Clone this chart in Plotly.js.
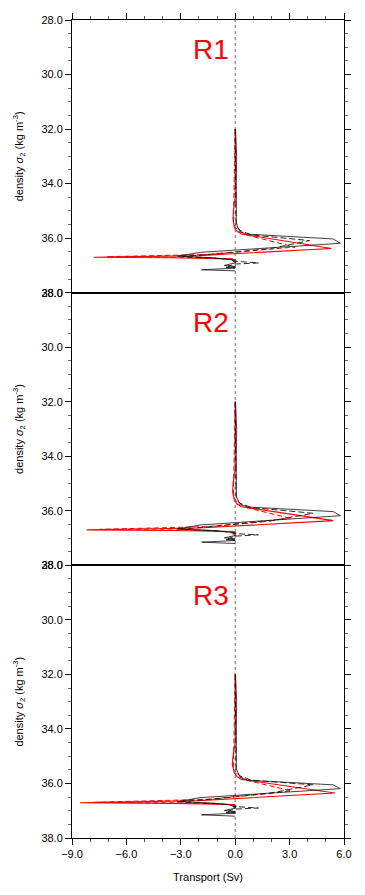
<!DOCTYPE html>
<html><head><meta charset="utf-8">
<script src="https://cdn.plot.ly/plotly-3.0.1.min.js"></script>
<style>html,body{margin:0;padding:0;background:#fff}#chart{width:365px;height:895px}</style>
</head><body><div id="chart"></div>
<script>
// Panel labels
const panelLabels = ['R1', 'R2', 'R3'];

// ---- R1 ----
const r1BlackSolidX = [0.02, 0.08, 0.06, 0.04, 0.06, 0.15, 0.35, 0.6, 5.4, 5.8, -1.9, -3.2, -1.2, -0.1, 0.05, -0.6, 0.0, -0.5, 0.0, -1.85, 0.0];
const r1BlackSolidY = [32.0, 33.0, 34.0, 35.0, 35.4, 35.65, 35.78, 35.85, 36.03, 36.19, 36.52, 36.66, 36.72, 36.8, 36.9, 37.0, 37.04, 37.07, 37.1, 37.16, 37.2];
const r1BlackDashX = [0.0, 0.03, 0.02, 0.05, 0.25, 0.9, 4.1, 1.9, -1.2, -2.9, -0.6, 0.05, 1.3, 0.0, -0.4, 0.0];
const r1BlackDashY = [32.0, 34.0, 35.0, 35.5, 35.72, 35.88, 36.09, 36.39, 36.58, 36.67, 36.76, 36.85, 36.91, 36.95, 37.03, 37.08];
const r1RedSolidX = [0.0, 0.0, -0.1, -0.12, -0.05, 0.1, 0.35, 5.3, -2.0, -7.8, -3.5, -0.2, 0.0, -0.1, 0.0];
const r1RedSolidY = [32.0, 34.5, 35.0, 35.3, 35.6, 35.75, 35.85, 36.38, 36.64, 36.70, 36.72, 36.76, 36.8, 36.85, 36.9];
const r1RedDashX = [0.0, -0.08, -0.1, 0.0, 0.2, 0.6, 3.3, 2.7, -1.5, -7.1, -2.0, 0.0, 0.05, 0.0];
const r1RedDashY = [32.0, 35.0, 35.4, 35.6, 35.75, 35.88, 36.33, 36.36, 36.6, 36.68, 36.71, 36.78, 36.85, 36.9];

// ---- R2 ----
const r2BlackSolidX = [0.02, 0.08, 0.06, 0.04, 0.06, 0.2, 0.45, 0.7, 5.41, 5.8, -1.94, -3.2, -1.2, -0.1, 0.05, -0.6, 0.0, -0.5, 0.0, -1.85, 0.0];
const r2BlackSolidY = [32.0, 33.0, 34.0, 35.0, 35.45, 35.7, 35.8, 35.86, 36.03, 36.18, 36.52, 36.67, 36.72, 36.8, 36.9, 36.99, 37.03, 37.06, 37.09, 37.15, 37.2];
const r2BlackDashX = [0.0, 0.03, 0.02, 0.05, 0.25, 0.9, 4.3, 1.9, -1.2, -3.0, -0.6, 0.05, 1.28, 0.0, -0.4, 0.0];
const r2BlackDashY = [32.0, 34.0, 35.0, 35.5, 35.72, 35.88, 36.09, 36.38, 36.57, 36.67, 36.76, 36.84, 36.88, 36.93, 37.02, 37.07];
const r2RedSolidX = [0.0, 0.0, -0.12, -0.14, -0.05, 0.1, 0.35, 5.41, -2.0, -8.19, -3.5, -0.2, 0.0, -0.1, 0.0];
const r2RedSolidY = [32.0, 34.5, 35.0, 35.3, 35.6, 35.75, 35.85, 36.36, 36.63, 36.70, 36.72, 36.76, 36.8, 36.85, 36.9];
const r2RedDashX = [0.0, -0.08, -0.1, 0.0, 0.2, 0.6, 3.0, 2.5, -1.5, -7.5, -2.0, 0.0, 0.05, 0.0];
const r2RedDashY = [32.0, 35.0, 35.4, 35.6, 35.75, 35.88, 36.27, 36.31, 36.58, 36.68, 36.71, 36.78, 36.85, 36.9];

// ---- R3 ----
const r3BlackSolidX = [0.02, 0.08, 0.06, 0.04, 0.06, 0.2, 0.45, 0.7, 5.4, 5.8, -1.94, -3.2, -1.2, -0.1, 0.05, -0.6, 0.0, -0.5, 0.0, -1.85, 0.0];
const r3BlackSolidY = [32.0, 33.0, 34.0, 35.0, 35.45, 35.7, 35.82, 35.88, 36.05, 36.19, 36.52, 36.67, 36.72, 36.8, 36.9, 36.99, 37.03, 37.06, 37.09, 37.15, 37.2];
const r3BlackDashX = [0.0, 0.03, 0.02, 0.05, 0.25, 0.9, 4.3, 1.9, -1.2, -3.0, -0.6, 0.05, 1.28, 0.0, -0.4, 0.0];
const r3BlackDashY = [32.0, 34.0, 35.0, 35.5, 35.72, 35.88, 36.05, 36.36, 36.57, 36.67, 36.76, 36.85, 36.9, 36.94, 37.02, 37.07];
const r3RedSolidX = [0.0, 0.0, -0.12, -0.16, -0.05, 0.1, 0.35, 5.5, -2.0, -8.56, -3.5, -0.2, 0.0, -0.1, 0.0];
const r3RedSolidY = [32.0, 34.5, 35.0, 35.3, 35.6, 35.75, 35.85, 36.35, 36.63, 36.71, 36.73, 36.77, 36.8, 36.85, 36.9];
const r3RedDashX = [0.0, -0.08, -0.1, 0.0, 0.2, 0.6, 3.1, 2.6, -1.5, -7.8, -2.0, 0.0, 0.05, 0.0];
const r3RedDashY = [32.0, 35.0, 35.4, 35.6, 35.75, 35.88, 36.27, 36.31, 36.58, 36.69, 36.72, 36.78, 36.85, 36.9];

const panelSeries = [
  {bs:[r1BlackSolidX,r1BlackSolidY], bd:[r1BlackDashX,r1BlackDashY], rs:[r1RedSolidX,r1RedSolidY], rd:[r1RedDashX,r1RedDashY]},
  {bs:[r2BlackSolidX,r2BlackSolidY], bd:[r2BlackDashX,r2BlackDashY], rs:[r2RedSolidX,r2RedSolidY], rd:[r2RedDashX,r2RedDashY]},
  {bs:[r3BlackSolidX,r3BlackSolidY], bd:[r3BlackDashX,r3BlackDashY], rs:[r3RedSolidX,r3RedSolidY], rd:[r3RedDashX,r3RedDashY]}
];

const FONT = '"Liberation Sans", Arial, Helvetica, sans-serif';
const traces = [];
panelSeries.forEach((p, i) => {
  const xa = i === 0 ? 'x' : 'x' + (i + 1);
  const ya = i === 0 ? 'y' : 'y' + (i + 1);
  const mk = (d, color, dash, w) => ({
    type: 'scatter', mode: 'lines', x: d[0], y: d[1], xaxis: xa, yaxis: ya,
    line: {color: color, width: w, dash: dash}, showlegend: false, hoverinfo: 'skip'
  });
  traces.push(mk(p.rd, '#ff0000', '5px,3px', 1));
  traces.push(mk(p.rs, '#ff0000', 'solid', 1.1));
  traces.push(mk(p.bd, '#111111', '6px,3px', 0.9));
  traces.push(mk(p.bs, '#111111', 'solid', 0.8));
});

const domains = [[2/3, 1], [1/3, 2/3], [0, 1/3]];
const layout = {
  width: 365, height: 895,
  margin: {l: 72, r: 21, t: 20, b: 57},
  paper_bgcolor: '#fff', plot_bgcolor: '#fff',
  font: {family: FONT, size: 11, color: '#000'},
  showlegend: false,
  shapes: [{type: 'line', xref: 'x', yref: 'paper', x0: 0, x1: 0, y0: 0, y1: 1,
            line: {color: '#444', width: 0.8, dash: '3px,3px'}, layer: 'below'}],
  annotations: []
};

for (let i = 0; i < 3; i++) {
  const xk = i === 0 ? 'xaxis' : 'xaxis' + (i + 1);
  const yk = i === 0 ? 'yaxis' : 'yaxis' + (i + 1);
  const yName = i === 0 ? 'y' : 'y' + (i + 1);
  const xName = i === 0 ? 'x' : 'x' + (i + 1);
  const xa = {
    domain: [0, 1], anchor: yName, range: [-9, 6],
    showgrid: false, zeroline: false, showline: true, mirror: true,
    linecolor: '#000', linewidth: 1, fixedrange: true
  };
  if (i === 0) {
    Object.assign(xa, {side: 'top', ticks: 'outside', tickmode: 'linear', tick0: -9, dtick: 3,
      ticklen: 6, tickwidth: 1, tickcolor: '#000', showticklabels: false,
      minor: {ticks: 'outside', dtick: 1, tick0: 0, ticklen: 3, tickcolor: '#555', tickwidth: 1}});
  } else if (i === 2) {
    Object.assign(xa, {side: 'bottom', ticks: 'outside', tickmode: 'linear', tick0: -9, dtick: 3,
      ticklen: 6, tickwidth: 1, tickcolor: '#000', showticklabels: true, tickformat: '.1f',
      tickfont: {size: 11, family: FONT},
      minor: {ticks: 'outside', dtick: 1, tick0: 0, ticklen: 3, tickcolor: '#555', tickwidth: 1},
      title: {text: 'Transport (Sv)', font: {size: 11, family: FONT}, standoff: 14}});
  } else {
    Object.assign(xa, {ticks: '', showticklabels: false});
  }
  if (i > 0) xa.matches = 'x';
  layout[xk] = xa;
  layout[yk] = {
    domain: domains[i], anchor: xName, range: [38, 28], autorange: false,
    showgrid: false, zeroline: false, showline: true, mirror: 'ticks',
    linecolor: '#000', linewidth: 1, fixedrange: true,
    ticks: 'outside', tickmode: 'linear', tick0: 28, dtick: 2, ticklen: 6, tickwidth: 1, tickcolor: '#000',
    tickformat: '.1f', tickfont: {size: 11, family: FONT},
    minor: {ticks: 'outside', dtick: 0.5, tick0: 28, ticklen: 3, tickcolor: '#777', tickwidth: 1},
    title: {text: 'density <i>σ</i><sub>2</sub> (kg m<sup>-3</sup>)', font: {size: 11, family: FONT}, standoff: 15}
  };
  layout.annotations.push({
    text: panelLabels[i], xref: xName + ' domain', yref: yName + ' domain',
    x: 0.51, y: 0.89, xanchor: 'center', yanchor: 'middle', showarrow: false,
    font: {size: 28, color: '#ff0000', family: FONT}
  });
}

Plotly.newPlot('chart', traces, layout, {displayModeBar: false, staticPlot: true});
</script>
</body></html>
